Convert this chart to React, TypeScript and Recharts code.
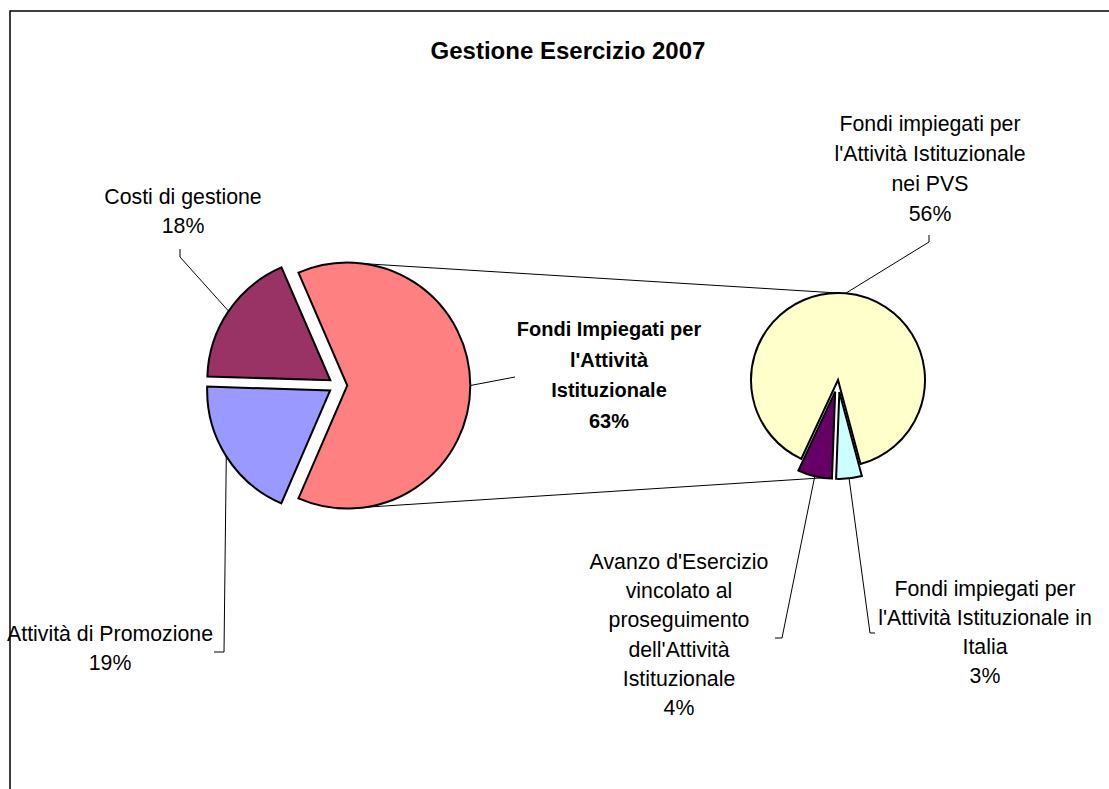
import React from 'react';
import { PieChart, Pie, Cell } from 'recharts';

// first pie: the big slice is split into the second pie
const mainNames = [
  "Fondi Impiegati per\nl'Attività\nIstituzionale",
  'Attività di Promozione',
  'Costi di gestione',
];
const mainValues = [63, 19, 18];
const mainColors = ['#FF8080', '#9999FF', '#993366'];

// second pie: detail of the 63%
const subNames = [
  "Fondi impiegati per\nl'Attività Istituzionale\nnei PVS",
  "Avanzo d'Esercizio\nvincolato al\nproseguimento\ndell'Attività\nIstituzionale",
  "Fondi impiegati per\nl'Attività Istituzionale in\nItalia",
];
const subValues = [56, 4, 3];
const subColors = ['#FFFFCC', '#660066', '#CCFFFF'];

const W = 1109;
const H = 789;
const FONT = '"Liberation Sans", Arial, sans-serif';
const RAD = Math.PI / 180;

const MAIN = { x: 338, y: 385.5, r: 123, explode: 9.3 };
const SUB = { x: 838, y: 380, r: 87, explode: 12 };

// where each label sits (center x, first line y) and the bend points of its leader
const mainLabels = [
  { x: 609, y: 329, lh: 30.5, bold: true, leader: [[515, 377]] },
  { x: 110, y: 634, lh: 29, bold: false, leader: [[224, 652], [214, 652]] },
  { x: 183, y: 197, lh: 29, bold: false, leader: [[180, 257], [180, 249]] },
];
const subLabels = [
  { x: 930, y: 124, lh: 30, bold: false, leader: [[929, 242], [929, 235]] },
  { x: 679, y: 562, lh: 29.2, bold: false, leader: [[782, 638], [775, 638]] },
  { x: 985, y: 589, lh: 29, bold: false, leader: [[870, 633], [875, 633]] },
];

const polar = (cx: number, cy: number, r: number, a: number) => [
  cx + r * Math.cos(a * RAD),
  cy - r * Math.sin(a * RAD),
];

const sum = (a: number[]) => a.reduce((s, v) => s + v, 0);

// main pie: first slice centred on the right, drawn clockwise
const mainTotal = sum(mainValues);
const mainStart = (mainValues[0] / mainTotal) * 180;
const mainMids = mainValues.map((v, i) => {
  const before = sum(mainValues.slice(0, i));
  return mainStart - ((before + v / 2) / mainTotal) * 360;
});

// second pie: the small slices grouped at the bottom, drawn counter-clockwise
const subTotal = sum(subValues);
const smallSpan = ((subTotal - subValues[0]) / subTotal) * 360;
const subStart = 265 + smallSpan / 2;
const subMids = subValues.map((v, i) => {
  const before = sum(subValues.slice(0, i));
  return subStart + ((before + v / 2) / subTotal) * 360;
});

const mainData = mainNames.map((name, i) => ({ name, value: mainValues[i] }));
const subData = subNames.map((name, i) => ({ name, value: subValues[i] }));

function LabelText({ x, y, lh, bold, lines }: any) {
  return (
    <text
      x={x}
      y={y}
      textAnchor="middle"
      dominantBaseline="central"
      fontFamily={FONT}
      fontSize={bold ? 20 : 21.3}
      fontWeight={bold ? 'bold' : 'normal'}
      fill="#000"
    >
      {lines.map((t: string, k: number) => (
        <tspan key={k} x={x} y={y + k * lh}>
          {t}
        </tspan>
      ))}
    </text>
  );
}

function makeLabel(layout: any[], only: number, pct: (v: number) => string) {
  return (props: any) => {
    const { index, cx, cy, midAngle, outerRadius, name, value } = props;
    if (index !== only) return null;
    const l = layout[index];
    const start = polar(cx, cy, outerRadius, midAngle);
    const pts = [start, ...l.leader].map((p: number[]) => p.join(',')).join(' ');
    const lines = [...String(name).split('\n'), pct(value)];
    return (
      <g key={`lbl-${index}`}>
        <polyline points={pts} fill="none" stroke="#000" strokeWidth={1} />
        <LabelText x={l.x} y={l.y} lh={l.lh} bold={l.bold} lines={lines} />
      </g>
    );
  };
}

export default function App() {
  const pinkCx = MAIN.x + MAIN.explode * Math.cos(mainMids[0] * RAD);
  const pinkCy = MAIN.y - MAIN.explode * Math.sin(mainMids[0] * RAD);
  const purpleCx = SUB.x + SUB.explode * Math.cos(subMids[1] * RAD);
  const purpleCy = SUB.y - SUB.explode * Math.sin(subMids[1] * RAD);
  const topA = polar(pinkCx, pinkCy, MAIN.r, 82);
  const botA = polar(pinkCx, pinkCy, MAIN.r, -82);
  const topB = polar(SUB.x, SUB.y, SUB.r, 90);
  const botB = polar(purpleCx, purpleCy, SUB.r, 262);

  return (
    <div style={{ position: 'absolute', left: 0, top: 0, width: W, height: H, background: '#fff' }}>
      <svg width={W} height={H} style={{ position: 'absolute', left: 0, top: 0 }}>
        <rect x={10} y={11} width={W + 20} height={H + 20} fill="#fff" stroke="#000" strokeWidth={1.5} />
        <text
          x={568}
          y={50}
          textAnchor="middle"
          dominantBaseline="central"
          fontFamily={FONT}
          fontSize={24}
          fontWeight="bold"
          fill="#000"
        >
          Gestione Esercizio 2007
        </text>
        <line x1={topA[0]} y1={topA[1]} x2={topB[0]} y2={topB[1]} stroke="#000" strokeWidth={1} />
        <line x1={botA[0]} y1={botA[1]} x2={botB[0]} y2={botB[1]} stroke="#000" strokeWidth={1} />
      </svg>
      <div style={{ position: 'absolute', left: 0, top: 0 }}>
        <PieChart width={W} height={H} margin={{ top: 0, right: 0, bottom: 0, left: 0 }}>
          {mainValues.map((_, i) => (
            <Pie
              key={`main-${i}`}
              data={mainData}
              dataKey="value"
              nameKey="name"
              cx={MAIN.x + MAIN.explode * Math.cos(mainMids[i] * RAD)}
              cy={MAIN.y - MAIN.explode * Math.sin(mainMids[i] * RAD)}
              outerRadius={MAIN.r}
              startAngle={mainStart}
              endAngle={mainStart - 360}
              isAnimationActive={false}
              labelLine={false}
              label={makeLabel(mainLabels, i, (v) => `${Math.round((v / mainTotal) * 100)}%`)}
            >
              {mainData.map((_, j) => (
                <Cell
                  key={j}
                  fill={j === i ? mainColors[j] : 'none'}
                  stroke={j === i ? '#000' : 'none'}
                  strokeWidth={2}
                />
              ))}
            </Pie>
          ))}
          {subValues.map((_, i) => (
            <Pie
              key={`sub-${i}`}
              data={subData}
              dataKey="value"
              nameKey="name"
              cx={SUB.x + (i === 0 ? 0 : SUB.explode * Math.cos(subMids[i] * RAD))}
              cy={SUB.y - (i === 0 ? 0 : SUB.explode * Math.sin(subMids[i] * RAD))}
              outerRadius={SUB.r}
              startAngle={subStart}
              endAngle={subStart + 360}
              isAnimationActive={false}
              labelLine={false}
              label={makeLabel(subLabels, i, (v) => `${v}%`)}
            >
              {subData.map((_, j) => (
                <Cell
                  key={j}
                  fill={j === i ? subColors[j] : 'none'}
                  stroke={j === i ? '#000' : 'none'}
                  strokeWidth={2}
                />
              ))}
            </Pie>
          ))}
        </PieChart>
      </div>
    </div>
  );
}
